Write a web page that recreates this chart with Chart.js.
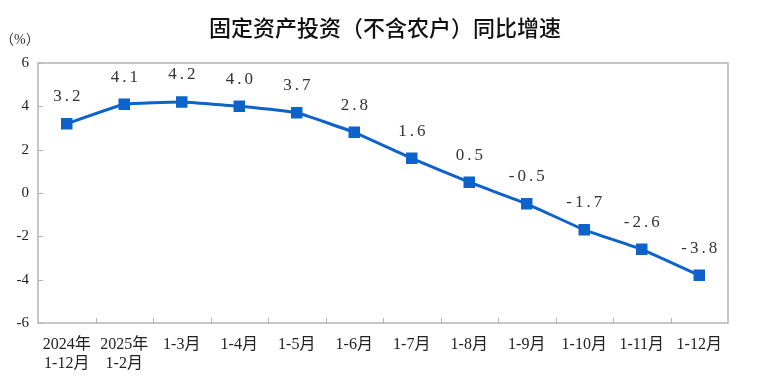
<!DOCTYPE html>
<html>
<head>
<meta charset="utf-8">
<script src="https://cdn.jsdelivr.net/npm/chart.js@4.4.1/dist/chart.umd.min.js"></script>
<style>
html,body{margin:0;padding:0;background:#fff;}
#wrap{width:769px;height:378px;position:relative;}
</style>
</head>
<body>
<div id="wrap"><canvas id="c" width="769" height="378"></canvas></div>
<script>
const categories = [["2024年","1-12月"],["2025年","1-2月"],"1-3月","1-4月","1-5月","1-6月","1-7月","1-8月","1-9月","1-10月","1-11月","1-12月"];
const growth = [3.2, 4.1, 4.2, 4.0, 3.7, 2.8, 1.6, 0.5, -0.5, -1.7, -2.6, -3.8];
const yTicks = [6, 4, 2, 0, -2, -4, -6];
const titleText = "固定资产投资（不含农户）同比增速";
const unitText = "（%）";

const serif = '"Liberation Serif", "Noto Sans CJK SC", serif';
const blue = '#0d63c9';
const axisGray = '#b4b4b4';

const decor = {
  id: 'decor',
  afterDraw(chart) {
    const ctx = chart.ctx;
    const a = chart.chartArea;
    const xs = chart.scales.x, ys = chart.scales.y;
    ctx.save();
    // frame
    ctx.strokeStyle = axisGray;
    ctx.lineWidth = 1.5;
    ctx.strokeRect(a.left, a.top, a.right - a.left, a.bottom - a.top);
    // inward ticks on y
    ctx.lineWidth = 1;
    yTicks.forEach(v => {
      const y = Math.round(ys.getPixelForValue(v)) + 0.5;
      ctx.beginPath(); ctx.moveTo(a.left, y); ctx.lineTo(a.left + 5, y); ctx.stroke();
    });
    // inward ticks on x at category boundaries
    for (let i = 1; i < categories.length; i++) {
      const x = Math.round((xs.getPixelForValue(i - 1) + xs.getPixelForValue(i)) / 2) + 0.5;
      ctx.beginPath(); ctx.moveTo(x, a.bottom); ctx.lineTo(x, a.bottom - 5); ctx.stroke();
    }
    // title
    ctx.fillStyle = '#111';
    ctx.font = '500 22px "Noto Sans CJK SC", sans-serif';
    ctx.textAlign = 'center';
    ctx.textBaseline = 'middle';
    ctx.fillText(titleText, 385, 28);
    // unit
    ctx.font = '14px ' + serif;
    ctx.fillStyle = '#333';
    ctx.textAlign = 'left';
    ctx.fillText(unitText, 0, 40);
    // data labels
    const meta = chart.getDatasetMeta(0);
    ctx.font = '17px ' + serif;
    ctx.fillStyle = '#333';
    ctx.textAlign = 'center';
    ctx.textBaseline = 'middle';
    try { ctx.letterSpacing = '3px'; } catch (e) {}
    meta.data.forEach((pt, i) => {
      const v = growth[i];
      ctx.fillText(v.toFixed(1), pt.x + 1.5, pt.y - 27);
    });
    ctx.restore();
  }
};

new Chart(document.getElementById('c'), {
  type: 'line',
  data: {
    labels: categories,
    datasets: [{
      data: growth,
      borderColor: blue,
      backgroundColor: blue,
      borderWidth: 3,
      pointStyle: 'rect',
      pointRadius: 6,
      pointHoverRadius: 6,
      tension: 0.1
    }]
  },
  options: {
    responsive: false,
    animation: false,
    devicePixelRatio: 1,
    layout: { padding: { top: 63, right: 41, left: 0, bottom: 0 } },
    plugins: { legend: { display: false }, tooltip: { enabled: false }, title: { display: false } },
    scales: {
      x: {
        offset: true,
        grid: { display: false, drawTicks: false },
        border: { display: false },
        ticks: { color: '#222', font: { family: serif, size: 16, lineHeight: 1.2 }, padding: 12, maxRotation: 0, autoSkip: false },
        afterFit(s) { s.height = 55; }
      },
      y: {
        min: -6, max: 6,
        afterBuildTicks(s) { s.ticks = yTicks.map(v => ({ value: v })); },
        grid: { display: false, drawTicks: false },
        border: { display: false },
        ticks: { color: '#222', font: { family: serif, size: 15 }, padding: 9 },
        afterFit(s) { s.width = 38; }
      }
    }
  },
  plugins: [decor]
});
</script>
</body>
</html>
